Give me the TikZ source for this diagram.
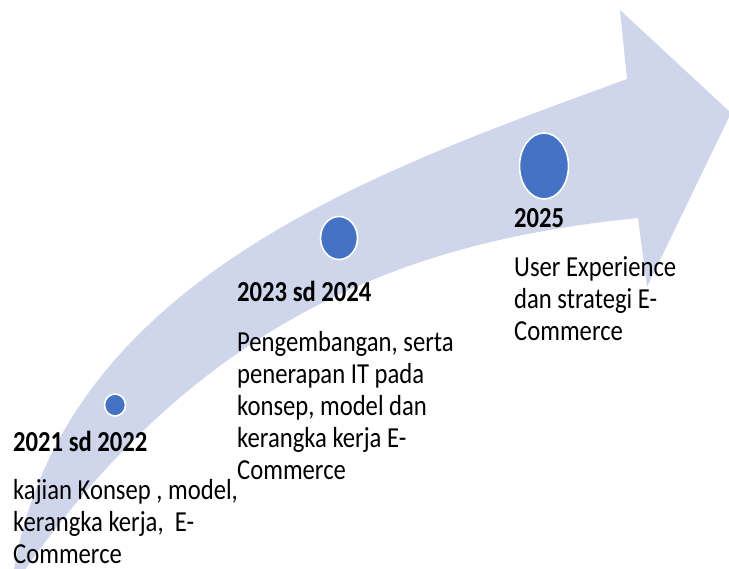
\documentclass[tikz,border=0pt]{standalone}
\usepackage{fontspec}
\setmainfont{Carlito}[FakeStretch=0.85]
\usetikzlibrary{shapes.geometric}
\definecolor{bandcol}{RGB}{207,213,234}
\definecolor{dotcol}{RGB}{68,114,196}
\begin{document}
\begin{tikzpicture}[x=1pt,y=-1pt,
  dot/.style={ellipse,fill=dotcol,draw=white,line width=1.6pt,inner sep=0pt},
  txt/.style={anchor=base west,inner sep=0pt,font=\fontsize{29}{32}\selectfont,text=black},
  yr/.style={txt,font=\fontsize{29}{32}\selectfont\bfseries}]
\useasboundingbox (0,0) rectangle (729,569);
\begin{scope}
\clip (0,0) rectangle (729,569);
\fill[bandcol] (11,590) .. controls (50,280) and (380,170) .. (627,79)
  -- (620,10) -- (731,113) -- (647,287) -- (638,218)
  .. controls (420,240) and (200,310) .. (11,590) -- cycle;
\end{scope}
\node[dot,minimum width=21pt,minimum height=22pt] (c1) at (115,405) {};
\node[dot,minimum width=37pt,minimum height=43pt] (c2) at (339,238) {};
\node[dot,minimum width=49pt,minimum height=66pt] (c3) at (544,166) {};
% block 1
\node[yr] (h1) at (13,452) {2021 sd 2022};
\node[txt] (a1) at (13,500) {kajian Konsep , model,};
\node[txt] (a2) at (13,531) {kerangka kerja, \ E-};
\node[txt] (a3) at (13,563) {Commerce};
% block 2
\node[yr] (h2) at (237,302) {2023 sd 2024};
\node[txt] (b1) at (237,352) {Pengembangan, serta};
\node[txt] (b2) at (237,384) {penerapan IT pada};
\node[txt] (b3) at (237,416) {konsep, model dan};
\node[txt] (b4) at (237,448) {kerangka kerja E-};
\node[txt] (b5) at (237,480) {Commerce};
% block 3
\node[yr] (h3) at (514,228) {2025};
\node[txt] (d1) at (514,277) {User Experience};
\node[txt] (d2) at (514,309) {dan strategi E-};
\node[txt] (d3) at (514,341) {Commerce};
\end{tikzpicture}
\end{document}
